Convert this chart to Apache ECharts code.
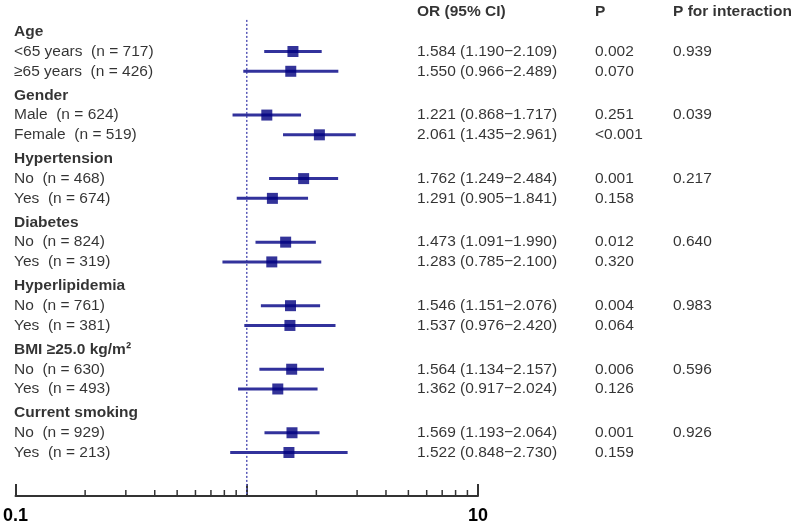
<!DOCTYPE html>
<html>
<head>
<meta charset="utf-8">
<script src="https://cdn.jsdelivr.net/npm/echarts@6/dist/echarts.min.js"></script>
<style>html,body{margin:0;padding:0;background:#fff}#c{width:797px;height:527px}</style>
</head>
<body>
<div id="c"></div>
<script>
const groups = ['Age', 'Gender', 'Hypertension', 'Diabetes', 'Hyperlipidemia', 'BMI \u226525.0 kg/m\u00b2', 'Current smoking'];
const subLabels = [['<65 years', '\u226565 years'], ['Male', 'Female'], ['No', 'Yes'], ['No', 'Yes'], ['No', 'Yes'], ['No', 'Yes'], ['No', 'Yes']];
const nCounts = [[717, 426], [624, 519], [468, 674], [824, 319], [761, 381], [630, 493], [929, 213]];
const orVals = [[1.584, 1.550], [1.221, 2.061], [1.762, 1.291], [1.473, 1.283], [1.546, 1.537], [1.564, 1.362], [1.569, 1.522]];
const ciLow = [[1.190, 0.966], [0.868, 1.435], [1.249, 0.905], [1.091, 0.785], [1.151, 0.976], [1.134, 0.917], [1.193, 0.848]];
const ciHigh = [[2.109, 2.489], [1.717, 2.961], [2.484, 1.841], [1.990, 2.100], [2.076, 2.420], [2.157, 2.024], [2.064, 2.730]];
const pVals = [['0.002', '0.070'], ['0.251', '<0.001'], ['0.001', '0.158'], ['0.012', '0.320'], ['0.004', '0.064'], ['0.006', '0.126'], ['0.001', '0.159']];
const pInter = ['0.939', '0.039', '0.217', '0.640', '0.983', '0.596', '0.926'];
const colHeaders = ['OR (95% CI)', 'P', 'P for interaction'];
const minorTickVals = [0.2, 0.3, 0.4, 0.5, 0.6, 0.7, 0.8, 0.9, 2, 3, 4, 5, 6, 7, 8, 9];

// layout in row units
const GROUP_STEP = 3.215;
const Y_MIN = -1, Y_MAX = 23.49;
const FONT = '"Liberation Sans", Arial, Helvetica, sans-serif';
const FS = 15.5;
const X_LEFT = 14, X_OR = 417, X_P = 595, X_PI = 673;

const markerData = [], ciData = [], textData = [];
function addText(x, y, txt, bold) {
  textData.push({ value: [x, y], label: { formatter: txt, fontWeight: bold ? 'bold' : 'normal' } });
}
addText(X_OR, Y_MIN, colHeaders[0], true);
addText(X_P, Y_MIN, colHeaders[1], true);
addText(X_PI, Y_MIN, colHeaders[2], true);
groups.forEach((g, gi) => {
  const hy = gi * GROUP_STEP;
  addText(X_LEFT, hy, g, true);
  for (let k = 0; k < 2; k++) {
    const y = hy + 1 + k;
    const o = orVals[gi][k], lo = ciLow[gi][k], hi = ciHigh[gi][k];
    markerData.push([o, y]);
    ciData.push([lo, hi, y]);
    addText(X_LEFT, y, subLabels[gi][k] + '  (n = ' + nCounts[gi][k] + ')', false);
    addText(X_OR, y, o.toFixed(3) + ' (' + lo.toFixed(3) + '\u2212' + hi.toFixed(3) + ')', false);
    addText(X_P, y, pVals[gi][k], false);
    if (k === 0) addText(X_PI, y, pInter[gi], false);
  }
});

const chart = echarts.init(document.getElementById('c'), null, { renderer: 'canvas' });
chart.setOption({
  animation: false,
  backgroundColor: '#fff',
  grid: [
    { left: 15, right: 797 - 478, top: 12, bottom: 31, containLabel: false },
    { left: 0, right: 0, top: 12, bottom: 31, containLabel: false }
  ],
  xAxis: [
    {
      type: 'log', logBase: 10, min: 0.1, max: 10, gridIndex: 0, position: 'bottom',
      axisLine: { show: true, onZero: false, lineStyle: { color: '#333', width: 2 } },
      axisTick: { show: true, inside: true, length: 12, lineStyle: { color: '#333', width: 2 } },
      axisLabel: {
        show: true, margin: 11, fontFamily: FONT, fontSize: 18, fontWeight: 'bold', color: '#000',
        formatter: v => (v < 0.5 ? '0.1' : (v > 5 ? '10' : ''))
      },
      splitLine: { show: false }, minorTick: { show: false }
    },
    { type: 'value', min: 0, max: 797, gridIndex: 1, show: false }
  ],
  yAxis: [
    { type: 'value', inverse: true, min: Y_MIN, max: Y_MAX, gridIndex: 0, show: false },
    { type: 'value', inverse: true, min: Y_MIN, max: Y_MAX, gridIndex: 1, show: false }
  ],
  series: [
    {
      type: 'line', xAxisIndex: 0, yAxisIndex: 0, symbol: 'none', silent: true, z: 1,
      data: [[1, -0.6], [1, Y_MAX]],
      lineStyle: { color: '#5a5ab8', width: 1.5, type: [2, 2] }
    },
    {
      type: 'custom', xAxisIndex: 0, yAxisIndex: 0, z: 2, clip: false,
      data: minorTickVals.map(v => [v, Y_MAX]),
      renderItem: function (params, api) {
        const p = api.coord([api.value(0), api.value(1)]);
        return { type: 'line', shape: { x1: p[0], y1: p[1] - 6, x2: p[0], y2: p[1] },
          style: { stroke: '#333', lineWidth: 1.5 } };
      }
    },
    {
      type: 'custom', xAxisIndex: 0, yAxisIndex: 0, z: 3, clip: false,
      data: ciData,
      renderItem: function (params, api) {
        const a = api.coord([api.value(0), api.value(2)]);
        const b = api.coord([api.value(1), api.value(2)]);
        return { type: 'line', shape: { x1: a[0], y1: a[1], x2: b[0], y2: b[1] },
          style: { stroke: '#32329c', lineWidth: 3 } };
      }
    },
    {
      type: 'scatter', xAxisIndex: 0, yAxisIndex: 0, z: 4,
      symbol: 'rect', symbolSize: 11, data: markerData,
      itemStyle: { color: '#000080' }
    },
    {
      type: 'scatter', xAxisIndex: 1, yAxisIndex: 1, z: 5, silent: true,
      symbolSize: 0, data: textData,
      label: {
        show: true, position: [0, 0], align: 'left', verticalAlign: 'middle',
        fontFamily: FONT, fontSize: FS, color: '#000'
      }
    }
  ]
});
</script>
</body>
</html>
